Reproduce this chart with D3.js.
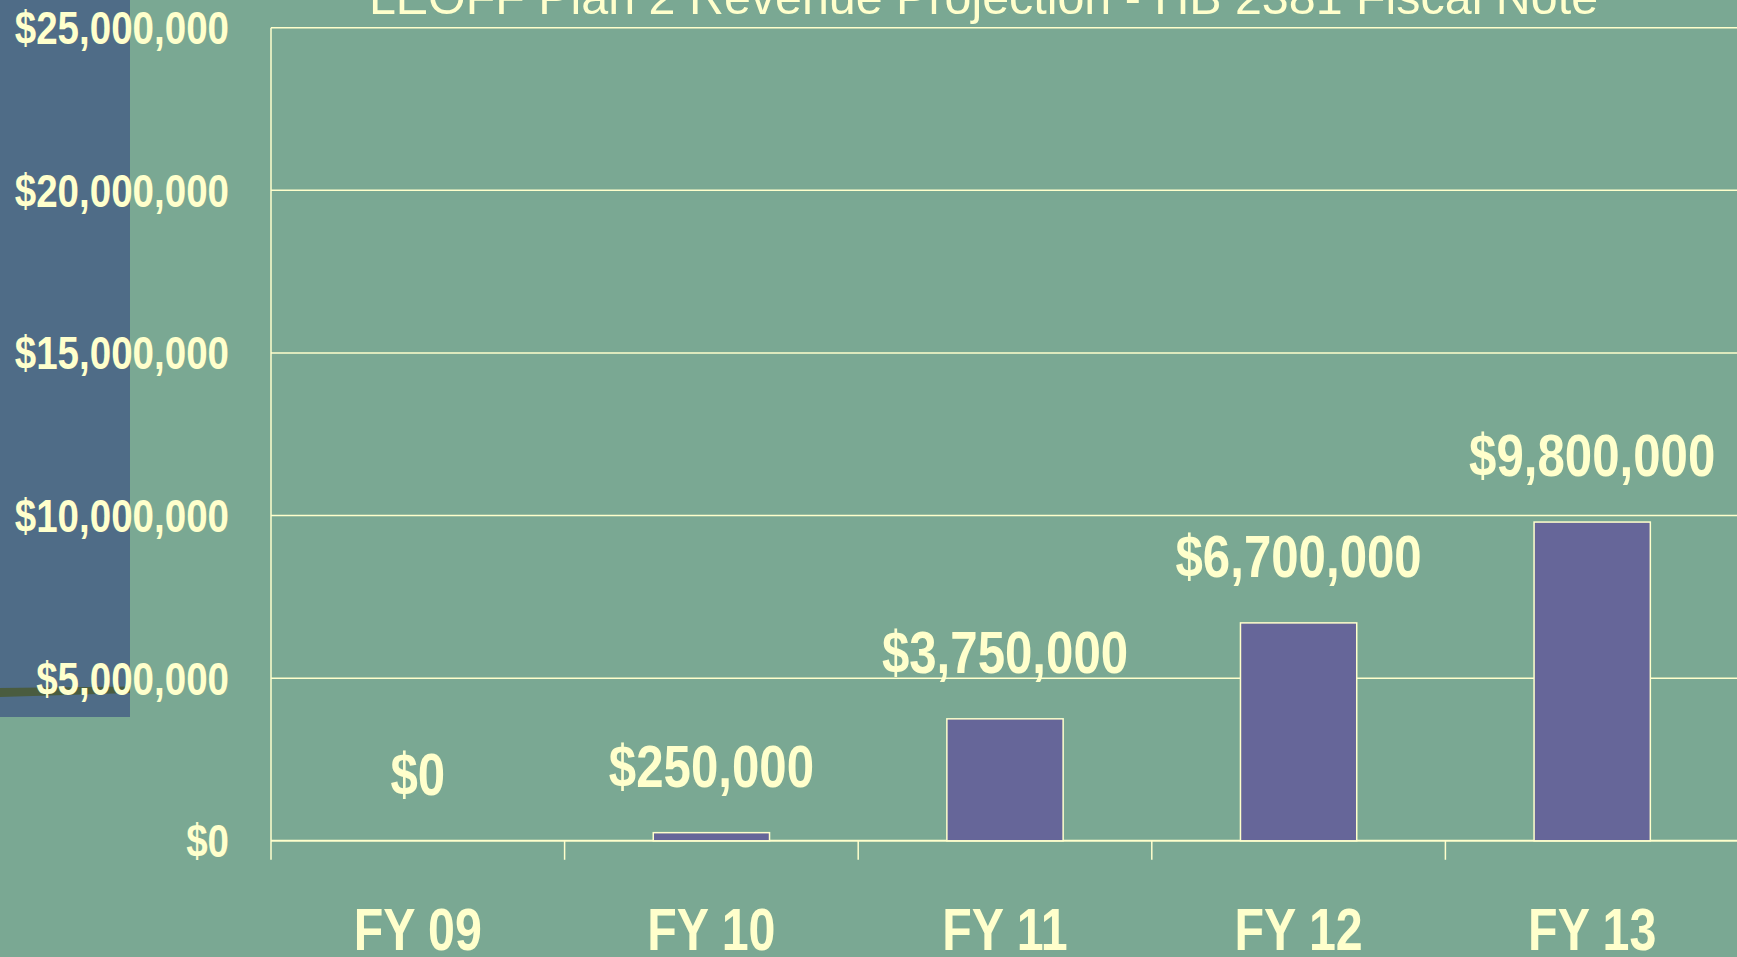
<!DOCTYPE html>
<html>
<head>
<meta charset="utf-8">
<script src="https://cdn.jsdelivr.net/npm/d3@7"></script>
<style>
  html, body { margin: 0; padding: 0; background: #7AA893; overflow: hidden; }
  svg { display: block; }
  .narrow { font-family: "Liberation Sans", Arial, sans-serif; font-weight: bold; fill: #FFFFCC; }
</style>
</head>
<body>
<svg id="chart" width="1737" height="957"></svg>
<script>
const title = "LEOFF Plan 2 Revenue Projection - HB 2381 Fiscal Note";
const categories = ["FY 09", "FY 10", "FY 11", "FY 12", "FY 13"];
const values = [0, 250000, 3750000, 6700000, 9800000];
const valueLabels = ["$0", "$250,000", "$3,750,000", "$6,700,000", "$9,800,000"];
const yTicks = [0, 5000000, 10000000, 15000000, 20000000, 25000000];
const yTickLabels = ["$0", "$5,000,000", "$10,000,000", "$15,000,000", "$20,000,000", "$25,000,000"];

const W = 1737, H = 957;
const ink = "#FFFFCC";
const svg = d3.select("#chart");

// condensed (Arial Narrow Bold look) by horizontal compression
const squeeze = 0.82;
function narrowAt(sel, fx, fy) {
  sel.attr("x", 0).attr("y", 0)
     .attr("transform", (d, i) => `translate(${fx(d, i)},${fy(d, i)}) scale(${squeeze},1)`);
}

// background
svg.append("rect").attr("width", W).attr("height", H).attr("fill", "#7AA893");

// decorative slide block at left
svg.append("rect").attr("x", 0).attr("y", 0).attr("width", 130).attr("height", 717).attr("fill", "#4F6C87");
svg.append("path").attr("d", "M0,688 L130,686.5 L130,693 L0,697 Z").attr("fill", "#4A5C3F");

const plotLeft = 271, plotRight = 1739, plotTop = 27.7, plotBottom = 840.8;

const y = d3.scaleLinear().domain([0, 25000000]).range([plotBottom, plotTop]);
const x = d3.scaleBand().domain(categories).range([plotLeft, plotRight]).paddingInner(0.604).paddingOuter(0.302);
const xOuter = d3.scaleBand().domain(categories).range([plotLeft, plotRight]).padding(0);

// gridlines
svg.append("g").selectAll("line").data(yTicks).join("line")
  .attr("x1", plotLeft).attr("x2", W)
  .attr("y1", d => y(d)).attr("y2", d => y(d))
  .attr("stroke", ink).attr("stroke-width", d => d === 0 ? 2 : 1.5);

// y axis line
svg.append("line").attr("x1", plotLeft).attr("x2", plotLeft)
  .attr("y1", plotTop).attr("y2", plotBottom + 19)
  .attr("stroke", ink).attr("stroke-width", 1.5);

// category boundary ticks
svg.append("g").selectAll("line").data(categories.slice(1)).join("line")
  .attr("x1", d => xOuter(d)).attr("x2", d => xOuter(d))
  .attr("y1", plotBottom).attr("y2", plotBottom + 19)
  .attr("stroke", ink).attr("stroke-width", 1.5);

// y tick labels
svg.append("g").selectAll("text").data(yTicks).join("text")
  .attr("class", "narrow")
  .attr("dy", "0.35em")
  .attr("text-anchor", "end").attr("font-size", 47)
  .text((d, i) => yTickLabels[i])
  .call(narrowAt, () => 229, d => y(d));

// bars
svg.append("g").selectAll("rect").data(values).join("rect")
  .attr("x", (d, i) => x(categories[i]))
  .attr("width", x.bandwidth())
  .attr("y", d => y(d))
  .attr("height", d => y(0) - y(d))
  .attr("fill", "#666699")
  .attr("stroke", ink).attr("stroke-width", d => d > 0 ? 1.5 : 0);

// value labels
svg.append("g").selectAll("text").data(values).join("text")
  .attr("class", "narrow")
  .attr("text-anchor", "middle").attr("font-size", 60)
  .text((d, i) => valueLabels[i])
  .call(narrowAt, (d, i) => x(categories[i]) + x.bandwidth() / 2, d => y(d) - 46);

// category labels
svg.append("g").selectAll("text").data(categories).join("text")
  .attr("class", "narrow")
  .attr("text-anchor", "middle").attr("font-size", 59)
  .text(d => d)
  .call(narrowAt, d => x(d) + x.bandwidth() / 2, () => 950);

// title (partially cut at top)
svg.append("text")
  .attr("x", 983.5).attr("y", 14)
  .attr("text-anchor", "middle")
  .attr("font-family", "'Liberation Sans', Arial, sans-serif")
  .attr("font-size", 48.4)
  .attr("fill", ink)
  .text(title);
</script>
</body>
</html>
